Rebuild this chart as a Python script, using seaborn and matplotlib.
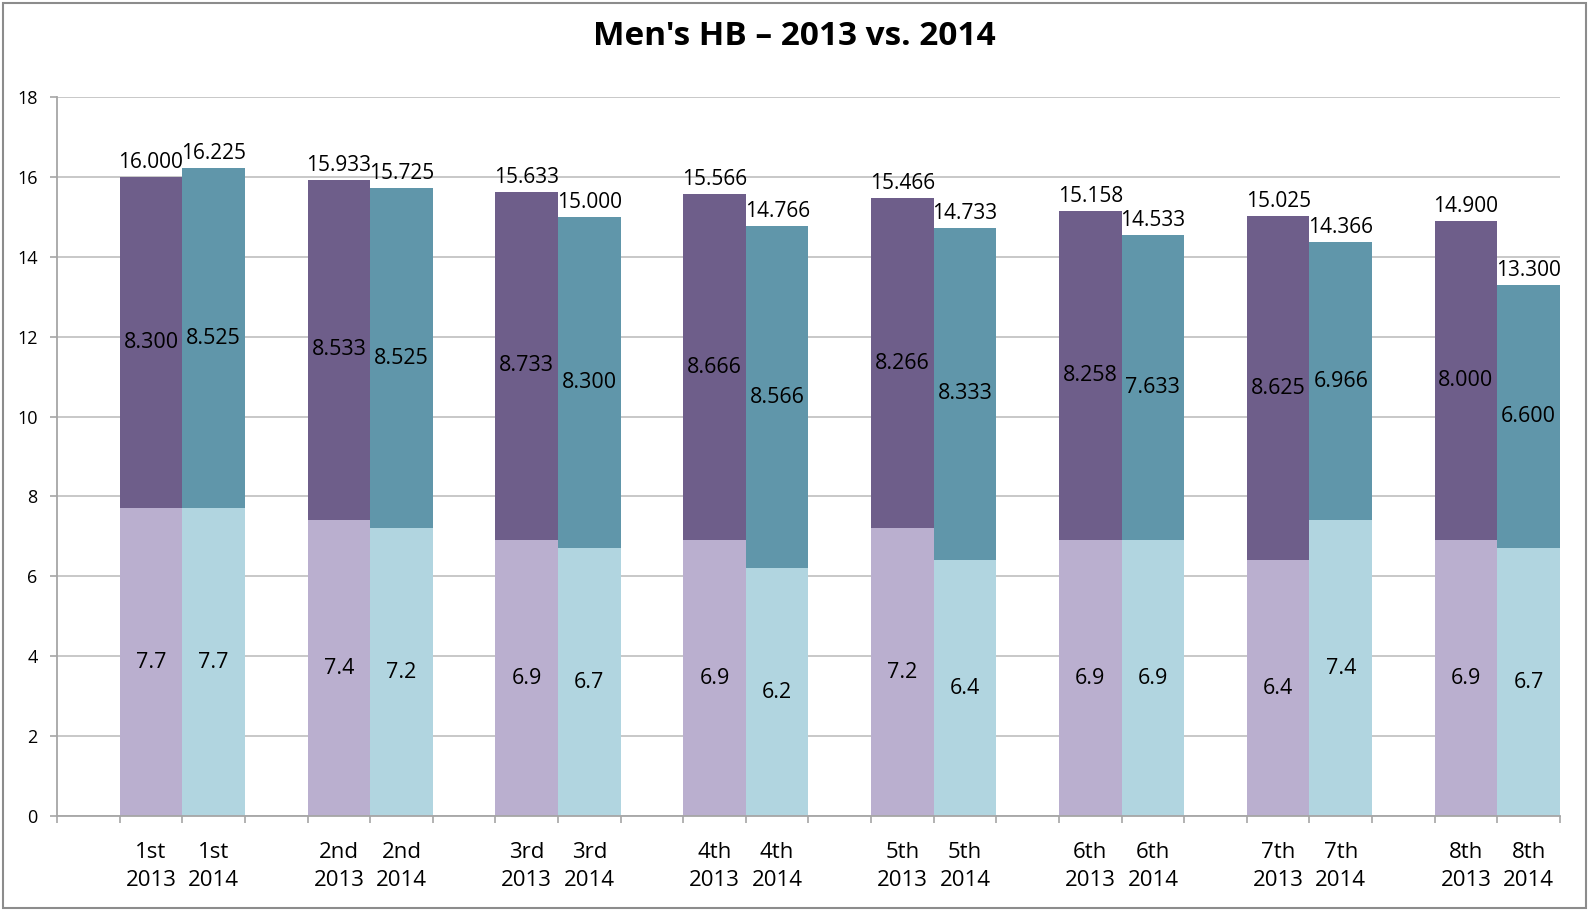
import numpy as np
import pandas as pd
import matplotlib
matplotlib.use("Agg")
import matplotlib.pyplot as plt
import seaborn as sns
from matplotlib.patches import Rectangle


PLACES = ["1st", "2nd", "3rd", "4th", "5th", "6th", "7th", "8th"]
YEARS = ["2013", "2014"]

TOTAL_2013 = [16.000, 15.933, 15.633, 15.566, 15.466, 15.158, 15.025, 14.900]
D_2013 = [7.7, 7.4, 6.9, 6.9, 7.2, 6.9, 6.4, 6.9]
E_2013 = [8.300, 8.533, 8.733, 8.666, 8.266, 8.258, 8.625, 8.000]

TOTAL_2014 = [16.225, 15.725, 15.000, 14.766, 14.733, 14.533, 14.366, 13.300]
D_2014 = [7.7, 7.2, 6.7, 6.2, 6.4, 6.9, 7.4, 6.7]
E_2014 = [8.525, 8.525, 8.300, 8.566, 8.333, 7.633, 6.966, 6.600]

DARK = {"2013": "#6E5E8A", "2014": "#6096AA"}
LIGHT = {"2013": "#BAAFCF", "2014": "#B1D5E0"}
FONT = "Open Sans"


def build_frame() -> tuple[pd.DataFrame, list[str]]:
    rows = []
    order = []
    series = {
        "2013": (TOTAL_2013, D_2013, E_2013),
        "2014": (TOTAL_2014, D_2014, E_2014),
    }
    for i, place in enumerate(PLACES):
        # empty slot in front of each pair of bars
        order.append(" " * (i + 1))
        for year in YEARS:
            total, d, e = series[year]
            slot = f"{place}\n{year}"
            order.append(slot)
            rows.append(
                {"slot": slot, "year": year, "total": total[i], "d": d[i], "e": e[i]}
            )
    return pd.DataFrame(rows), order


def main() -> None:
    sns.set_style("white")
    plt.rcParams["font.family"] = [FONT, "DejaVu Sans"]

    df, order = build_frame()

    fig = plt.figure(figsize=(15.89, 9.10), dpi=100)
    ax = fig.add_axes([0.0359, 0.1033, 0.9458, 0.7901])

    sns.barplot(
        data=df, x="slot", y="total", hue="year", palette=DARK, order=order,
        width=1.0, dodge=False, saturation=1, legend=False, linewidth=0, ax=ax,
    )
    sns.barplot(
        data=df, x="slot", y="d", hue="year", palette=LIGHT, order=order,
        width=1.0, dodge=False, saturation=1, legend=False, linewidth=0, ax=ax,
    )

    for _, row in df.iterrows():
        x = order.index(row["slot"])
        ax.text(x, row["d"] / 2, f"{row['d']:.1f}", ha="center", va="center",
                fontsize=15.5, color="black")
        ax.text(x, row["d"] + row["e"] / 2, f"{row['e']:.3f}", ha="center",
                va="center", fontsize=15.5, color="black")
        ax.text(x, row["total"] + 0.1, f"{row['total']:.3f}", ha="center",
                va="bottom", fontsize=15, color="black")

    ax.set_ylim(0, 18)
    ax.set_xlim(-0.5, len(order) - 0.5)
    ax.set_yticks(np.arange(0, 19, 2))
    ax.set_xticks(np.arange(-0.5, len(order), 1), minor=True)
    ax.yaxis.grid(True, color="#C4C4C4", linewidth=1.3)
    ax.set_axisbelow(True)

    ax.tick_params(axis="x", which="major", length=0, pad=19, labelsize=16,
                   labelcolor="black")
    ax.tick_params(axis="x", which="minor", length=5, width=1.2, color="#A6A6A6",
                   direction="out", bottom=True)
    ax.tick_params(axis="y", length=5, width=1.2, color="#A6A6A6",
                   direction="out", left=True, labelsize=13, pad=9,
                   labelcolor="black")
    for label in ax.get_xticklabels():
        label.set_linespacing(1.4)

    for side in ("top", "right"):
        ax.spines[side].set_visible(False)
    for side in ("left", "bottom"):
        ax.spines[side].set_color("#A6A6A6")
        ax.spines[side].set_linewidth(1.3)

    ax.set_xlabel("")
    ax.set_ylabel("")
    fig.suptitle("Men's HB \u2013 2013 vs. 2014", x=0.5, y=0.978,
                 fontsize=24, fontweight="bold", color="black")

    fig.patches.append(Rectangle((0.002, 0.002), 0.996, 0.995,
                                 transform=fig.transFigure, fill=False,
                                 edgecolor="#8C8C8C", linewidth=1.5))

    fig.savefig("out.png", dpi=100)


if __name__ == "__main__":
    main()
